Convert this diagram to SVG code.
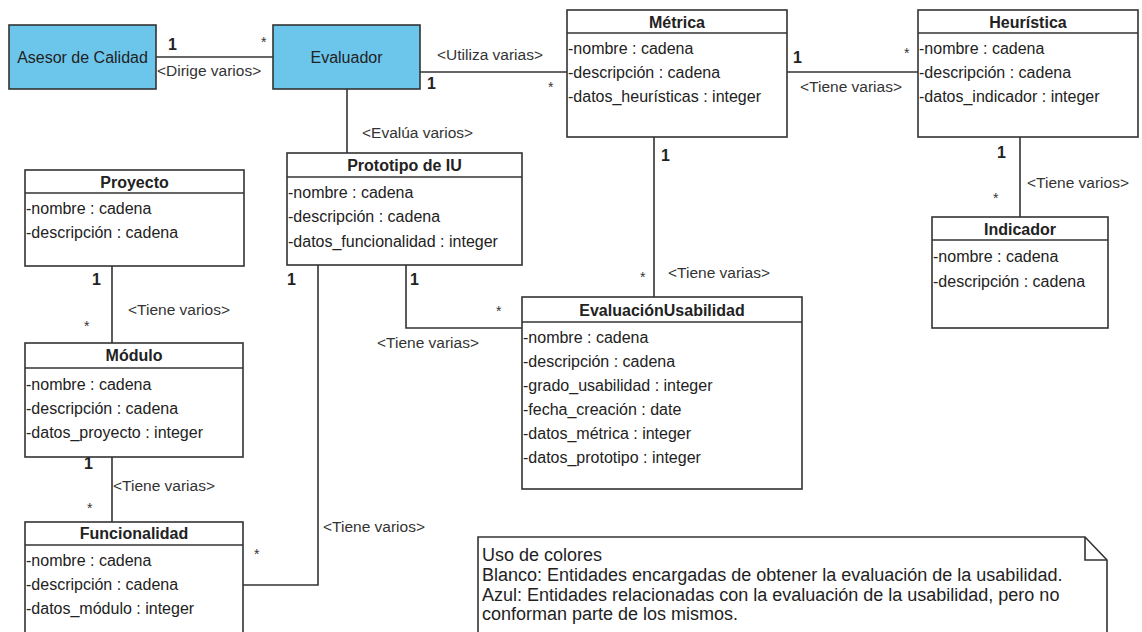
<svg xmlns="http://www.w3.org/2000/svg" width="1142" height="632" viewBox="0 0 1142 632">
  <style>
    .box { fill: #ffffff; stroke: #333333; stroke-width: 1.6; }
    .blue { fill: #6cc6ec; stroke: #333333; stroke-width: 1.6; }
    .sep { stroke: #333333; stroke-width: 1.6; }
    .edge { fill: none; stroke: #333333; stroke-width: 1.6; }
    text { font-family: "Liberation Sans", Arial, sans-serif; fill: #222222; }
    .title { font-size: 16px; font-weight: bold; text-anchor: middle; }
    .name { font-size: 16px; text-anchor: middle; }
    .attr { font-size: 16px; }
    .lbl { font-size: 15.5px; fill: #333333; }
    .one { font-size: 16px; font-weight: bold; }
    .many { font-size: 14px; fill: #333333; }
    .note { font-size: 18px; }
  </style>

  <!-- associations -->
  <g id="connectors">
    <line class="edge" x1="156" y1="57" x2="273" y2="57"/>
    <text class="one" x="168" y="50">1</text>
    <text class="many" x="261" y="47">*</text>
    <text class="lbl" x="157" y="76">&lt;Dirige varios&gt;</text>

    <line class="edge" x1="420" y1="72" x2="567" y2="72"/>
    <text class="lbl" x="437" y="60">&lt;Utiliza varias&gt;</text>
    <text class="one" x="427" y="89">1</text>
    <text class="many" x="548" y="92">*</text>

    <line class="edge" x1="787" y1="72" x2="918" y2="72"/>
    <text class="one" x="793" y="63">1</text>
    <text class="many" x="904" y="58">*</text>
    <text class="lbl" x="800" y="92">&lt;Tiene varias&gt;</text>

    <line class="edge" x1="1020" y1="137" x2="1020" y2="217"/>
    <text class="one" x="997" y="158">1</text>
    <text class="many" x="993" y="203">*</text>
    <text class="lbl" x="1027" y="188">&lt;Tiene varios&gt;</text>

    <line class="edge" x1="347" y1="89" x2="347" y2="153"/>
    <text class="lbl" x="362" y="138">&lt;Evalúa varios&gt;</text>

    <line class="edge" x1="654" y1="137" x2="654" y2="297"/>
    <text class="one" x="661" y="161">1</text>
    <text class="many" x="640" y="282">*</text>
    <text class="lbl" x="668" y="278">&lt;Tiene varias&gt;</text>

    <polyline class="edge" points="406,265 406,328 522,328"/>
    <text class="one" x="410" y="285">1</text>
    <text class="many" x="496" y="316">*</text>
    <text class="lbl" x="377" y="348">&lt;Tiene varias&gt;</text>

    <polyline class="edge" points="318,265 318,585 243,585"/>
    <text class="one" x="287" y="285">1</text>
    <text class="many" x="254" y="559">*</text>
    <text class="lbl" x="323" y="532">&lt;Tiene varios&gt;</text>

    <line class="edge" x1="112" y1="266" x2="112" y2="343"/>
    <text class="one" x="92" y="285">1</text>
    <text class="many" x="84" y="331">*</text>
    <text class="lbl" x="128" y="315">&lt;Tiene varios&gt;</text>

    <line class="edge" x1="112" y1="457" x2="112" y2="522"/>
    <text class="one" x="84" y="469">1</text>
    <text class="many" x="87" y="513">*</text>
    <text class="lbl" x="113" y="491">&lt;Tiene varias&gt;</text>
  </g>

  <g id="asesor">
    <rect class="blue" x="9" y="25" width="147" height="64"/>
    <text class="name" x="82.5" y="63">Asesor de Calidad</text>
  </g>

  <g id="evaluador">
    <rect class="blue" x="273" y="25" width="147" height="64"/>
    <text class="name" x="346.5" y="63">Evaluador</text>
  </g>

  <g id="metrica">
    <rect class="box" x="567" y="10" width="220" height="127"/>
    <line class="sep" x1="567" y1="33" x2="787" y2="33"/>
    <text class="title" x="677" y="28">Métrica</text>
    <text class="attr" x="568" y="54">-nombre : cadena</text>
    <text class="attr" x="568" y="78">-descripción : cadena</text>
    <text class="attr" x="568" y="102">-datos_heurísticas : integer</text>
  </g>

  <g id="heuristica">
    <rect class="box" x="918" y="10" width="220" height="127"/>
    <line class="sep" x1="918" y1="33" x2="1138" y2="33"/>
    <text class="title" x="1028" y="28">Heurística</text>
    <text class="attr" x="919" y="54">-nombre : cadena</text>
    <text class="attr" x="919" y="78">-descripción : cadena</text>
    <text class="attr" x="919" y="102">-datos_indicador : integer</text>
  </g>

  <g id="indicador">
    <rect class="box" x="932" y="217" width="176" height="111"/>
    <line class="sep" x1="932" y1="240" x2="1108" y2="240"/>
    <text class="title" x="1020" y="235">Indicador</text>
    <text class="attr" x="933" y="262">-nombre : cadena</text>
    <text class="attr" x="933" y="287">-descripción : cadena</text>
  </g>

  <g id="prototipo">
    <rect class="box" x="287" y="153" width="235" height="112"/>
    <line class="sep" x1="287" y1="177" x2="522" y2="177"/>
    <text class="title" x="404.5" y="171">Prototipo de IU</text>
    <text class="attr" x="288" y="198">-nombre : cadena</text>
    <text class="attr" x="288" y="222">-descripción : cadena</text>
    <text class="attr" x="288" y="247">-datos_funcionalidad : integer</text>
  </g>

  <g id="evaluacion">
    <rect class="box" x="522" y="297" width="280" height="192"/>
    <line class="sep" x1="522" y1="322" x2="802" y2="322"/>
    <text class="title" x="662" y="316">EvaluaciónUsabilidad</text>
    <text class="attr" x="523" y="343">-nombre : cadena</text>
    <text class="attr" x="523" y="367">-descripción : cadena</text>
    <text class="attr" x="523" y="391">-grado_usabilidad : integer</text>
    <text class="attr" x="523" y="415">-fecha_creación : date</text>
    <text class="attr" x="523" y="439">-datos_métrica : integer</text>
    <text class="attr" x="523" y="463">-datos_prototipo : integer</text>
  </g>

  <g id="proyecto">
    <rect class="box" x="25" y="170" width="219" height="96"/>
    <line class="sep" x1="25" y1="193" x2="244" y2="193"/>
    <text class="title" x="134.5" y="188">Proyecto</text>
    <text class="attr" x="26" y="214">-nombre : cadena</text>
    <text class="attr" x="26" y="238">-descripción : cadena</text>
  </g>

  <g id="modulo">
    <rect class="box" x="25" y="343" width="218" height="114"/>
    <line class="sep" x1="25" y1="368" x2="243" y2="368"/>
    <text class="title" x="134" y="361">Módulo</text>
    <text class="attr" x="26" y="390">-nombre : cadena</text>
    <text class="attr" x="26" y="414">-descripción : cadena</text>
    <text class="attr" x="26" y="438">-datos_proyecto : integer</text>
  </g>

  <g id="funcionalidad">
    <rect class="box" x="25" y="522" width="218" height="130"/>
    <line class="sep" x1="25" y1="545" x2="243" y2="545"/>
    <text class="title" x="134" y="539">Funcionalidad</text>
    <text class="attr" x="26" y="566">-nombre : cadena</text>
    <text class="attr" x="26" y="590">-descripción : cadena</text>
    <text class="attr" x="26" y="614">-datos_módulo : integer</text>
  </g>

  <g id="nota">
    <path class="box" d="M478,537 H1085 L1107,560 V652 H478 Z"/>
    <path class="edge" d="M1085,537 V560 H1107"/>
    <text class="note" x="482" y="561">Uso de colores</text>
    <text class="note" x="482" y="581">Blanco: Entidades encargadas de obtener la evaluación de la usabilidad.</text>
    <text class="note" x="482" y="601">Azul: Entidades relacionadas con la evaluación de la usabilidad, pero no</text>
    <text class="note" x="482" y="620">conforman parte de los mismos.</text>
  </g>
</svg>
